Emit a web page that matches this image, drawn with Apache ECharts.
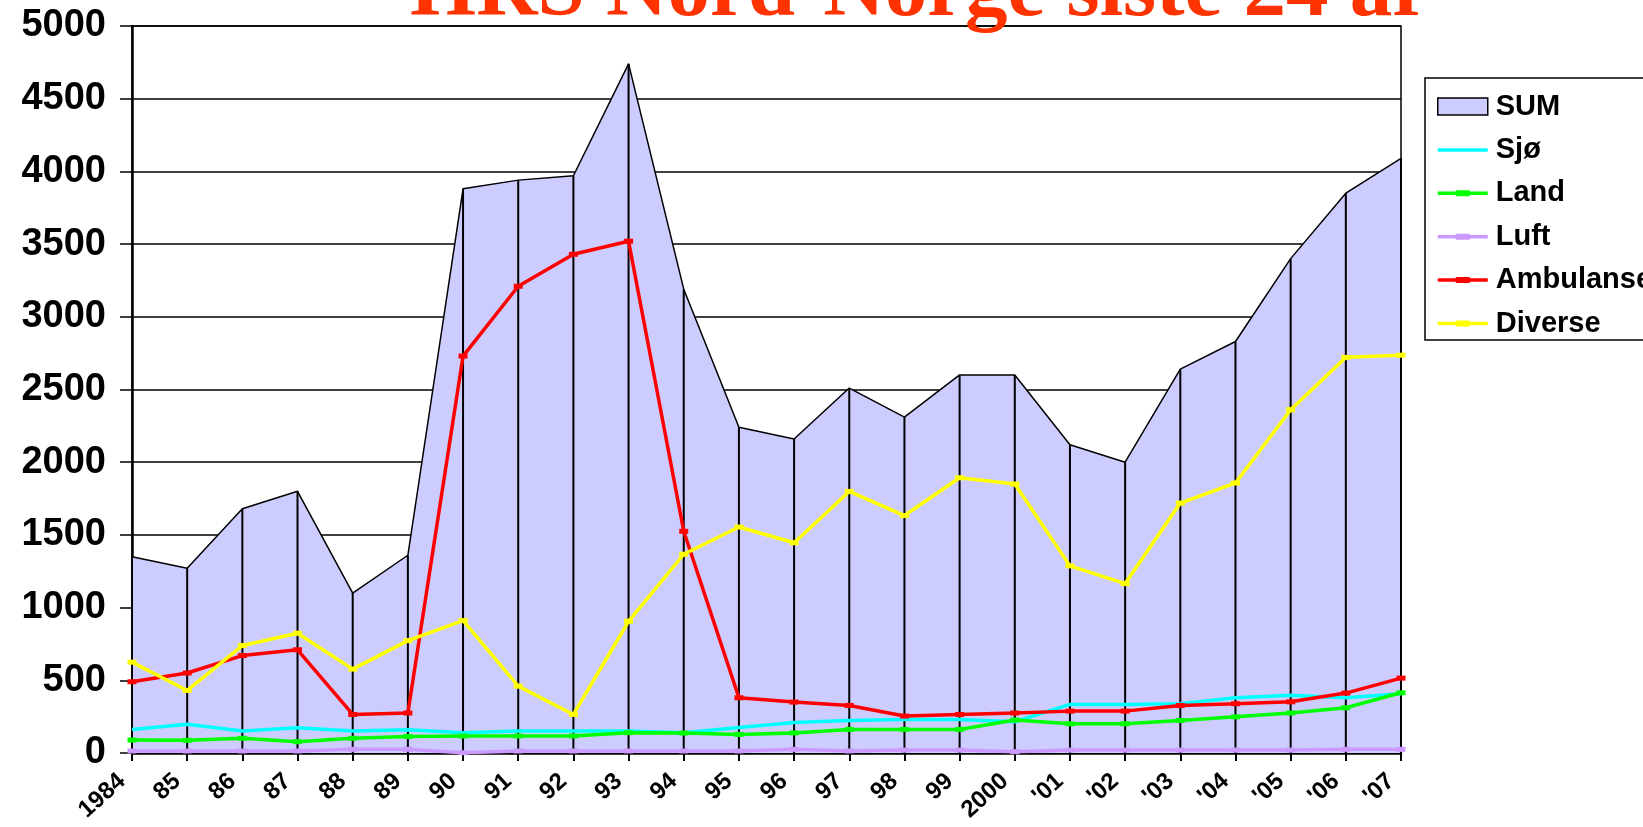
<!DOCTYPE html>
<html>
<head>
<meta charset="utf-8">
<title>HRS Nord-Norge siste 24 år</title>
<script src="https://cdn.jsdelivr.net/npm/echarts@6/dist/echarts.min.js"></script>
<style>
  html, body { margin: 0; padding: 0; background: #fff; }
  #chart { width: 1643px; height: 827px; }
</style>
</head>
<body>
<div id="chart"></div>
<script>
const years = ['1984', '85', '86', '87', '88', '89', '90', '91', '92', '93', '94', '95', '96', '97', '98', '99', '2000', "'01", "'02", "'03", "'04", "'05", "'06", "'07"]
const sum = [1350, 1270, 1680, 1800, 1100, 1360, 3880, 3940, 3970, 4740, 3190, 2240, 2160, 2510, 2310, 2600, 2600, 2120, 2000, 2640, 2830, 3400, 3850, 4090]
const sjo = [162, 197, 151, 174, 151, 160, 140, 151, 151, 151, 140, 176, 210, 224, 231, 231, 215, 334, 334, 339, 380, 398, 380, 407]
const land = [89, 87, 101, 78, 101, 114, 117, 117, 117, 140, 137, 128, 138, 162, 162, 162, 227, 201, 201, 224, 249, 275, 311, 414]
const luft = [14, 14, 14, 14, 25, 25, 2, 14, 14, 14, 14, 14, 25, 14, 20, 20, 9, 20, 20, 20, 20, 20, 25, 25]
const ambulanse = [490, 550, 670, 710, 265, 275, 2730, 3210, 3430, 3520, 1525, 380, 350, 327, 254, 265, 275, 288, 288, 327, 339, 352, 412, 515]
const diverse = [625, 430, 739, 824, 577, 773, 911, 460, 265, 906, 1367, 1554, 1446, 1799, 1633, 1893, 1850, 1287, 1165, 1719, 1857, 2361, 2721, 2736]

const font = 'Arial, "Liberation Sans", sans-serif'
// legend icons: plain line, and line with the small dash marker in the middle
const plainIcon = 'path://M0,0 H50 V3.5 H0 Z'
const dashIcon = 'path://M0,1.25 H18 V0 H32 V1.25 H50 V4.75 H32 V6 H18 V4.75 H0 Z'

function lineSeries(name, data, color, marker) {
  return {
    name: name,
    type: 'line',
    data: data,
    z: 4,
    symbol: 'rect',
    symbolSize: [9, 5],
    showSymbol: marker,
    showAllSymbol: true,
    itemStyle: { color: color },
    lineStyle: { color: color, width: 3.5 },
    emphasis: { disabled: true }
  }
}

const chart = echarts.init(document.getElementById('chart'))
chart.setOption({
  animation: false,
  backgroundColor: '#fff',
  title: {
    text: 'HRS Nord-Norge siste 24 år',
    left: 915,
    top: -54,
    textAlign: 'center',
    textStyle: {
      fontFamily: '"Liberation Serif", "Times New Roman", serif',
      fontWeight: 'bold',
      fontSize: 85,
      color: '#FF3300',
      textShadowColor: '#a8a8a8',
      textShadowOffsetX: 4,
      textShadowOffsetY: 4,
      textShadowBlur: 0
    }
  },
  grid: {
    left: 132,
    right: 242,
    top: 26,
    bottom: 74,
    show: true,
    borderColor: '#000',
    borderWidth: 1.5,
    backgroundColor: 'transparent'
  },
  legend: {
    orient: 'vertical',
    left: 1425,
    top: 78,
    padding: [14, 40, 2, 12],
    itemGap: 14.4,
    itemWidth: 50,
    itemHeight: 17,
    backgroundColor: '#fff',
    borderColor: '#000',
    borderWidth: 1.5,
    borderRadius: 0,
    textStyle: { fontFamily: font, fontWeight: 'bold', fontSize: 29, color: '#000', padding: [0, 0, 0, 3] },
    data: [
      { name: 'SUM', icon: 'rect', itemStyle: { color: '#CCCCFF', borderColor: '#000', borderWidth: 1.5 } },
      { name: 'Sjø', icon: plainIcon },
      { name: 'Land', icon: dashIcon },
      { name: 'Luft', icon: dashIcon },
      { name: 'Ambulanse', icon: dashIcon },
      { name: 'Diverse', icon: dashIcon }
    ]
  },
  xAxis: {
    type: 'category',
    data: years,
    boundaryGap: false,
    axisLine: { lineStyle: { color: '#000', width: 2.5 } },
    axisTick: { show: true, length: 8, interval: 0, lineStyle: { color: '#000', width: 2 } },
    axisLabel: {
      interval: 0,
      rotate: 42,
      margin: 16,
      // trailing spaces nudge the rotated labels left of their ticks
      formatter: v => v + '  ',
      fontFamily: font,
      fontWeight: 'bold',
      fontSize: 24,
      color: '#000'
    },
    splitLine: { show: false }
  },
  yAxis: {
    type: 'value',
    min: 0,
    max: 5000,
    interval: 500,
    axisLine: { show: true, lineStyle: { color: '#000', width: 2.5 } },
    axisTick: { show: true, length: 12, lineStyle: { color: '#000', width: 1.5 } },
    axisLabel: {
      margin: 26,
      fontFamily: font,
      fontWeight: 'bold',
      fontSize: 38,
      color: '#000',
      formatter: v => String(v)
    },
    splitLine: { show: true, lineStyle: { color: '#000', width: 1.5 } }
  },
  series: [
    {
      name: 'SUM',
      type: 'line',
      data: sum,
      z: 2,
      symbol: 'none',
      lineStyle: { color: '#000', width: 1.5 },
      itemStyle: { color: '#CCCCFF' },
      areaStyle: { color: '#CCCCFF', opacity: 1 },
      emphasis: { disabled: true }
    },
    {
      // drop lines from each SUM point down to the axis
      name: 'drop',
      type: 'bar',
      data: sum,
      z: 3,
      barWidth: 2,
      itemStyle: { color: '#000' },
      emphasis: { disabled: true }
    },
    lineSeries('Sjø', sjo, '#00FFFF', false),
    lineSeries('Land', land, '#00FF00', true),
    lineSeries('Luft', luft, '#CC99FF', true),
    lineSeries('Ambulanse', ambulanse, '#FF0000', true),
    lineSeries('Diverse', diverse, '#FFFF00', true)
  ]
})
</script>
</body>
</html>
